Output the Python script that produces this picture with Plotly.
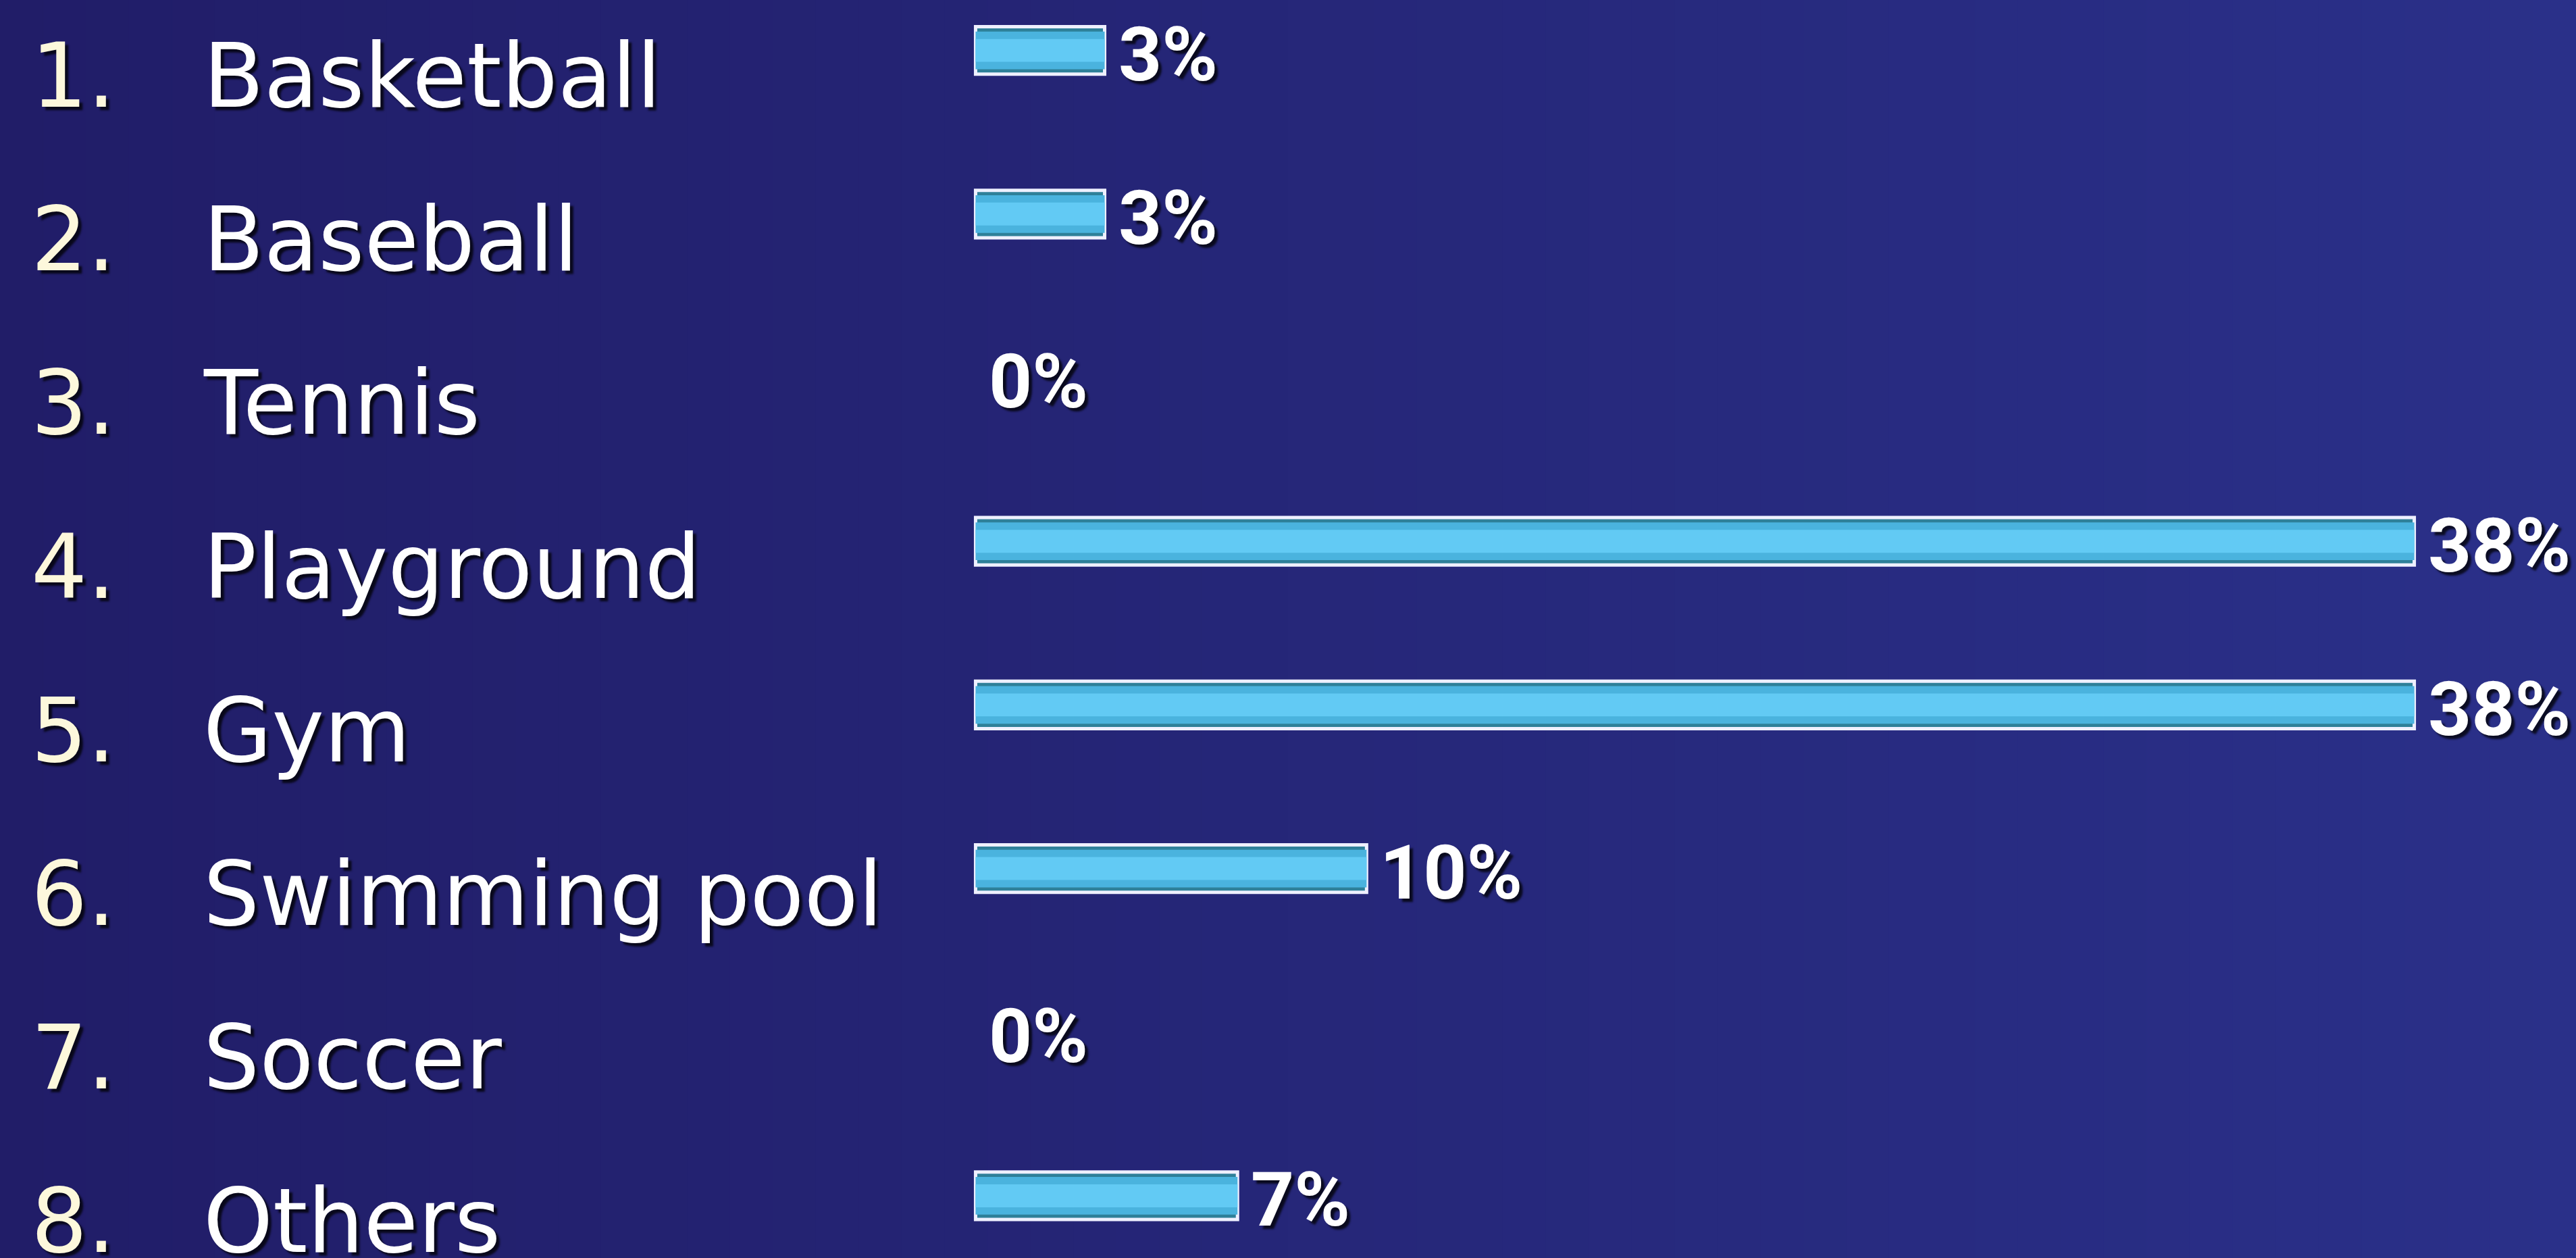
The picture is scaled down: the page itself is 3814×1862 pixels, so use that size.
import plotly.graph_objects as go

# survey: favourite facility (share of answers, %)
numbers = ["1.", "2.", "3.", "4.", "5.", "6.", "7.", "8."]
categories = ["Basketball", "Baseball", "Tennis", "Playground", "Gym",
              "Swimming pool", "Soccer", "Others"]
shares = [3.4, 3.4, 0, 37.9, 37.9, 10.3, 0, 6.9]
share_labels = ["3%", "3%", "0%", "38%", "38%", "10%", "0%", "7%"]

W, H = 3814, 1862

# no rim on empty bars
rim = [5 if v > 0 else 0 for v in shares]

fig = go.Figure()

# outer bar: dark teal with white rim
fig.add_trace(go.Bar(
    y=categories, x=shares, orientation="h", width=0.29,
    marker=dict(color="#2e8099", line=dict(color="#eef0ff", width=rim)),
    hoverinfo="skip", showlegend=False
))
# lighter core of the bar (fake gradient)
fig.add_trace(go.Bar(
    y=categories, x=shares, orientation="h", width=0.23,
    marker=dict(color="#4ab3de", line=dict(width=0)),
    hoverinfo="skip", showlegend=False
))
fig.add_trace(go.Bar(
    y=categories, x=shares, orientation="h", width=0.14,
    marker=dict(color="#62caf4", line=dict(width=0)),
    hoverinfo="skip", showlegend=False
))

shadow = "5px 5px 3px rgba(0,0,0,0.75)"

# left labels and value labels
for num, cat, v, lab in zip(numbers, categories, shares, share_labels):
    fig.add_annotation(x=44 / W, xref="paper", y=cat, yref="y",
                       text=num, showarrow=False, xanchor="left", yanchor="middle",
                       yshift=-38,
                       font=dict(family="DejaVu Sans", size=131, color="#fdf8dc",
                                 shadow=shadow))
    fig.add_annotation(x=299 / W, xref="paper", y=cat, yref="y",
                       text=cat, showarrow=False, xanchor="left", yanchor="middle",
                       yshift=-38,
                       font=dict(family="DejaVu Sans", size=131, color="white",
                                 shadow=shadow))
    fig.add_annotation(x=v, xref="x", y=cat, yref="y",
                       text=lab, showarrow=False, xanchor="left", yanchor="middle",
                       xshift=18, yshift=-6,
                       font=dict(family="Roboto", size=112, color="white",
                                 weight="bold", shadow=shadow))

# background: horizontal navy gradient made of thin strips
left = (0x21, 0x1d, 0x68)
right = (0x2a, 0x30, 0x89)
n = 60
for i in range(n):
    t = i / (n - 1)
    c = tuple(round(a + (b - a) * t) for a, b in zip(left, right))
    fig.add_shape(type="rect", xref="paper", yref="paper",
                  x0=i / n, x1=(i + 1) / n + 0.002, y0=0, y1=1,
                  fillcolor="rgb(%d,%d,%d)" % c, line=dict(width=0), layer="below")

fig.update_layout(
    width=W, height=H,
    margin=dict(l=0, r=0, t=0, b=0),
    barmode="overlay",
    paper_bgcolor="#25266f",
    plot_bgcolor="rgba(0,0,0,0)",
    xaxis=dict(range=[-25.70, 42.16], visible=False, fixedrange=True),
    yaxis=dict(range=[7.38, -0.308], visible=False, fixedrange=True,
               categoryorder="array", categoryarray=categories),
)

fig.write_html("out.html", config={"displayModeBar": False},
               post_script="document.body.style.margin='0';")
